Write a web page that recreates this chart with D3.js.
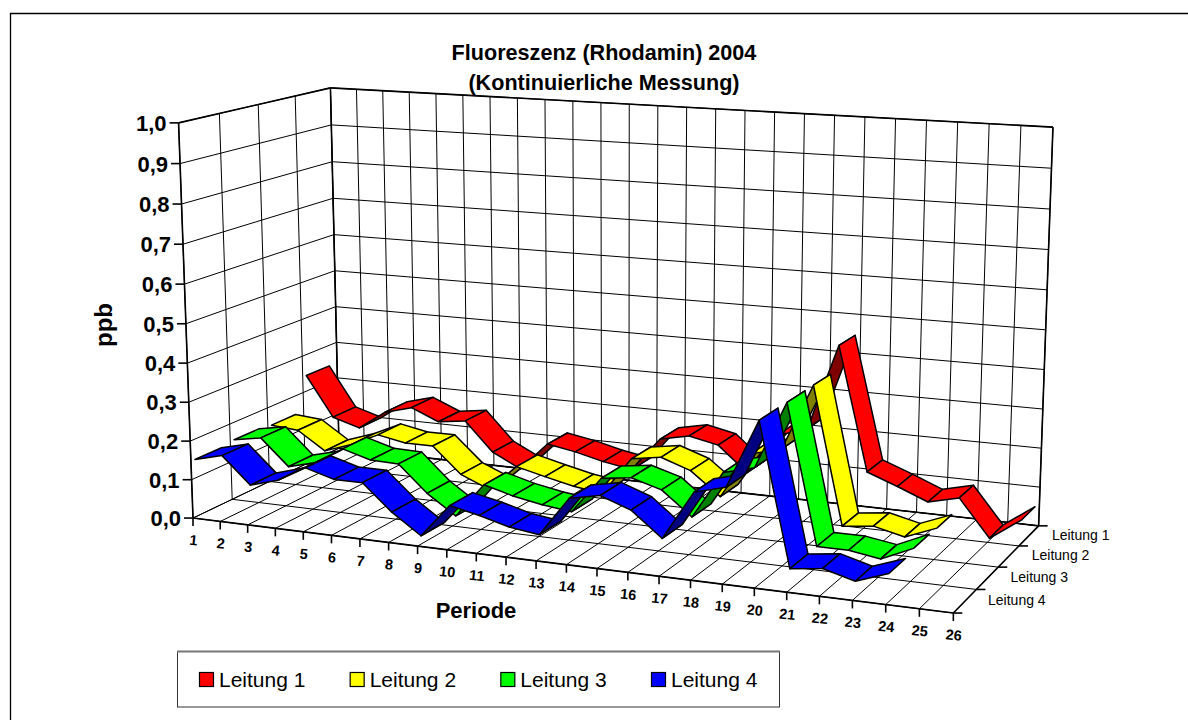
<!DOCTYPE html>
<meta charset="utf-8">
<style>
body { margin: 0; background: #fff; }
svg { display: block; }
text { font-family: "Liberation Sans", Arial, sans-serif; fill: #000; }
.grid { fill: none; stroke: #000; stroke-width: 1px; }
.axis { fill: none; stroke: #000; stroke-width: 1.6px; }
.strip { stroke: #000; stroke-width: 1.5px; stroke-linejoin: round; }
</style>
<body>
<script src="https://d3js.org/d3.v7.min.js"></script>
<script>
// values, ppb per Periode
var periods = d3.range(1, 27);
var valueTicks = [0, 0.1, 0.2, 0.3, 0.4, 0.5, 0.6, 0.7, 0.8, 0.9, 1];
var seriesNames = ["Leitung 1", "Leitung 2", "Leitung 3", "Leitung 4"];
var seriesColors = ["#ff0000", "#ffff00", "#00ff00", "#0000ff"];
var seriesDark = ["#800000", "#808000", "#008000", "#000080"];

var leitung1 = [0.243, 0.135, 0.113, 0.164, 0.184, 0.153, 0.163, 0.086, 0.049, 0.124, 0.111, 0.093, 0.08, 0.169, 0.185, 0.169, 0.105, 0.21, 0.235, 0.455, 0.14, 0.111, 0.08, 0.099, 0.005, 0.061];
var leitung2 = [0.149, 0.143, 0.095, 0.12, 0.154, 0.14, 0.14, 0.073, 0.042, 0.11, 0.092, 0.075, 0.065, 0.163, 0.175, 0.149, 0.091, 0.208, 0.228, 0.395, 0.051, 0.06, 0.042, 0.073];
var leitung3 = [0.154, 0.167, 0.099, 0.118, 0.162, 0.141, 0.139, 0.071, 0.021, 0.11, 0.09, 0.076, 0.067, 0.16, 0.17, 0.148, 0.089, 0.208, 0.228, 0.395, 0.052, 0.052, 0.04, 0.075];
var leitung4 = [0.148, 0.166, 0.098, 0.119, 0.159, 0.138, 0.138, 0.072, 0.021, 0.106, 0.09, 0.07, 0.06, 0.159, 0.174, 0.147, 0.087, 0.208, 0.228, 0.395, 0.051, 0.061, 0.04, 0.068];
var seriesValues = [leitung1, leitung2, leitung3, leitung4];

var width = 1188, height = 720;

// scales into the unit box of the 3D chart
var xScale = d3.scaleLinear().domain([1, 26]).range([0, 1]);
var zScale = d3.scaleLinear().domain([0, 4]).range([1, 0]);   // 0 = back wall, 4 = front edge
var yScale = d3.scaleLinear().domain([0, 1]).range([0, 1]);
var comma = d3.formatLocale({decimal: ",", thousands: ".", grouping: [3], currency: ["", ""]}).format(".1f");

// box corners on the page, used to fit the camera: [x, depth, y] -> [px, py]
var anchors = [
  [[0, 0, 0], [192, 517]], [[1, 0, 0], [954, 613]], [[1, 1, 0], [1038, 526]], [[0, 1, 0], [340, 449]],
  [[0, 0, 1], [179, 124]], [[0, 1, 1], [330, 87]], [[1, 1, 1], [1053, 127]]
];

// least squares fit of a 3x4 projection, last entry fixed at 1
function fitCamera(pts) {
  var rows = [], rhs = [];
  pts.forEach(function(p) {
    var a = p[0], u = p[1][0], v = p[1][1];
    rows.push([a[0], a[1], a[2], 1, 0, 0, 0, 0, -u * a[0], -u * a[1], -u * a[2]]); rhs.push(u);
    rows.push([0, 0, 0, 0, a[0], a[1], a[2], 1, -v * a[0], -v * a[1], -v * a[2]]); rhs.push(v);
  });
  var n = 11, m = [];
  for (var i = 0; i < n; i++) {
    m[i] = [];
    for (var j = 0; j < n; j++) m[i][j] = d3.sum(rows, function(r) { return r[i] * r[j]; });
    m[i][n] = d3.sum(rows, function(r, k) { return r[i] * rhs[k]; });
  }
  for (var c = 0; c < n; c++) {
    var piv = c;
    for (var r = c + 1; r < n; r++) if (Math.abs(m[r][c]) > Math.abs(m[piv][c])) piv = r;
    var t = m[c]; m[c] = m[piv]; m[piv] = t;
    for (var r2 = 0; r2 < n; r2++) {
      if (r2 == c) continue;
      var f = m[r2][c] / m[c][c];
      for (var k = c; k <= n; k++) m[r2][k] -= f * m[c][k];
    }
  }
  return m.map(function(row, i) { return row[n] / row[i]; });
}
var cam = fitCamera(anchors);

function project(x, z, y) {
  var d = cam[8] * x + cam[9] * z + cam[10] * y + 1;
  return [(cam[0] * x + cam[1] * z + cam[2] * y + cam[3]) / d,
          (cam[4] * x + cam[5] * z + cam[6] * y + cam[7]) / d];
}
// data space helper: period, depth slot, ppb
function pt(period, slot, value) {
  return project(xScale(period), zScale(slot), yScale(value));
}

var svg = d3.select("body").append("svg").attr("width", width).attr("height", height);
var line = d3.line();

// outer frame, open at right and bottom
svg.append("path")
  .attr("d", line([[10.5, height], [10.5, 13.5], [width, 13.5]]))
  .attr("fill", "none").attr("stroke", "#000").attr("stroke-width", 1.3);

var slots = [0, 1, 2, 3, 4];
var g = svg.append("g");

// back wall
periods.forEach(function(p) {
  g.append("path").attr("class", "grid").attr("d", line([pt(p, 0, 0), pt(p, 0, 1)]));
});
valueTicks.forEach(function(v) {
  g.append("path").attr("class", "grid").attr("d", line([pt(1, 0, v), pt(26, 0, v)]));
  g.append("path").attr("class", "grid").attr("d", line([pt(1, 4, v), pt(1, 0, v)]));
});
// side wall
slots.forEach(function(s) {
  g.append("path").attr("class", "grid").attr("d", line([pt(1, s, 0), pt(1, s, 1)]));
});
// floor
periods.forEach(function(p) {
  g.append("path").attr("class", "grid").attr("d", line([pt(p, 0, 0), pt(p, 4, 0)]));
});
slots.forEach(function(s) {
  g.append("path").attr("class", "grid").attr("d", line([pt(1, s, 0), pt(26, s, 0)]));
});

// heavier axis lines
[[pt(1, 4, 0), pt(26, 4, 0)], [pt(26, 4, 0), pt(26, 0, 0)], [pt(1, 4, 0), pt(1, 4, 1)],
 [pt(1, 4, 1), pt(1, 0, 1)], [pt(1, 0, 0), pt(1, 0, 1)], [pt(1, 0, 1), pt(26, 0, 1)],
 [pt(1, 0, 0), pt(26, 0, 0)], [pt(26, 0, 0), pt(26, 0, 1)]].forEach(function(seg) {
  g.append("path").attr("class", "axis").attr("d", line(seg));
});

// value axis ticks and labels
valueTicks.forEach(function(v) {
  var a = pt(1, 4, v);
  g.append("path").attr("class", "axis").attr("d", line([[a[0] - 9, a[1]], a]));
  svg.append("text").attr("x", a[0] - 12).attr("y", a[1] + 8)
    .attr("text-anchor", "end").attr("font-size", 22).attr("font-weight", "bold")
    .text(comma(v));
});

// period ticks and labels, turned along the axis
periods.forEach(function(p) {
  var a = pt(p, 4, 0);
  g.append("path").attr("class", "axis").attr("stroke-width", 1).attr("d", line([a, [a[0], a[1] + 8]]));
  svg.append("text")
    .attr("transform", "translate(" + a[0] + "," + (a[1] + 27) + ") rotate(6)")
    .attr("text-anchor", "middle").attr("font-size", 14.5).attr("font-weight", "bold")
    .text(p);
});

// depth ticks and series labels
slots.forEach(function(s) {
  var a = pt(26, s, 0);
  g.append("path").attr("class", "axis").attr("stroke-width", 1).attr("d", line([a, [a[0] + 9, a[1]]]));
});
seriesNames.forEach(function(name, i) {
  var a = pt(26, i + 0.5, 0);
  svg.append("text").attr("x", a[0] + 23).attr("y", a[1] + 4)
    .attr("font-size", 14).attr("fill", "#222").text(name);
});

// ribbons, back series first; each one runs along its slot
var ribbonFront = 0.9, ribbonBack = 0.23;
seriesValues.forEach(function(vals, i) {
  var gs = svg.append("g");
  d3.pairs(vals).forEach(function(pair, k) {
    var p = periods[k], q = periods[k + 1];
    var quad = [pt(p, i + ribbonFront, pair[0]), pt(q, i + ribbonFront, pair[1]),
                pt(q, i + ribbonBack, pair[1]), pt(p, i + ribbonBack, pair[0])];
    // underside facing us gets the dark shade
    var under = d3.polygonArea(quad) < 0;
    gs.append("path").attr("class", "strip")
      .attr("fill", under ? seriesDark[i] : seriesColors[i])
      .attr("d", line(quad) + "Z");
  });
});

// titles
svg.append("text").attr("x", 604).attr("y", 60).attr("text-anchor", "middle")
  .attr("font-size", 21.6).attr("font-weight", "bold").text("Fluoreszenz (Rhodamin) 2004");
svg.append("text").attr("x", 604).attr("y", 90).attr("text-anchor", "middle")
  .attr("font-size", 21.6).attr("font-weight", "bold").text("(Kontinuierliche Messung)");
svg.append("text").attr("transform", "translate(112,325) rotate(-90)").attr("text-anchor", "middle")
  .attr("font-size", 24).attr("font-weight", "bold").text("ppb");
svg.append("text").attr("x", 476).attr("y", 618).attr("text-anchor", "middle")
  .attr("font-size", 22).attr("font-weight", "bold").text("Periode");

// legend
svg.append("rect").attr("x", 177.5).attr("y", 651.5).attr("width", 602).attr("height", 55.5)
  .attr("fill", "#fff").attr("stroke", "#333").attr("stroke-width", 1);
svg.append("path").attr("d", line([[177, 651.5], [780, 651.5]])).attr("stroke", "#777").attr("stroke-width", 2);
var legendX = d3.scalePoint().domain(seriesNames).range([199.5, 651.5]);
seriesNames.forEach(function(name, i) {
  svg.append("rect").attr("x", legendX(name)).attr("y", 672.5).attr("width", 14).attr("height", 14)
    .attr("fill", seriesColors[i]).attr("stroke", "#000").attr("stroke-width", 1.2);
  svg.append("text").attr("x", legendX(name) + 19.5).attr("y", 686.5)
    .attr("font-size", 21).attr("fill", "#111").text(name);
});
</script>
</body>
